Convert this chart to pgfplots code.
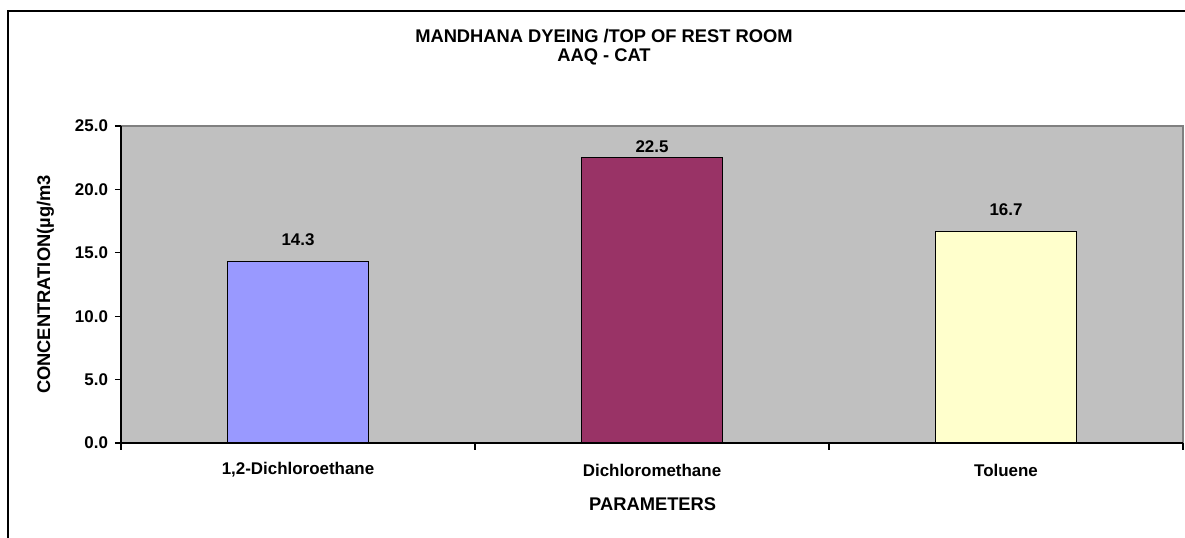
\documentclass[border=0pt]{standalone}
\usepackage{fontspec}
\setmainfont{Liberation Sans}
\usepackage{pgfplots}
\pgfplotsset{compat=1.18}
\definecolor{plotgray}{HTML}{C0C0C0}
\definecolor{barblue}{HTML}{9999FF}
\definecolor{barplum}{HTML}{993366}
\definecolor{baryellow}{HTML}{FFFFCC}
\definecolor{framegray}{HTML}{808080}

\begin{document}
\begin{tikzpicture}
\useasboundingbox (-60.5bp,-47.5bp) rectangle (532bp,221.5bp);
% outer chart frame (right and bottom edges lie outside the picture)
\draw[line width=0.6bp] (-56.5bp,-47.5bp) -- (-56.5bp,216bp) -- (532bp,216bp);
\begin{axis}[
  at={(0,0)}, anchor=south west,
  scale only axis, width=531bp, height=158.5bp,
  xmin=-0.5, xmax=2.5, ymin=0, ymax=25,
  ybar, bar width=70.5bp,
  clip=false,
  axis background/.style={fill=plotgray},
  axis line style={draw=none},
  xtick={0,1,2},
  xticklabels={{1,2-Dichloroethane},Dichloromethane,Toluene},
  xtick style={draw=none},
  ytick={0,5,...,25},
  ytick pos=left,
  ytick style={draw=black, line width=0.6bp},
  major tick length=3bp,
  tick align=outside,
  tick label style={font=\bfseries\fontsize{8.5}{10}\selectfont},
  xticklabel style={anchor=center, yshift=-10.5bp},
  yticklabel style={/pgf/number format/fixed, /pgf/number format/fixed zerofill,
                    /pgf/number format/precision=1},
  /pgf/number format/assume math mode=true,
  nodes near coords={\pgfmathprintnumber[fixed,fixed zerofill,precision=1]{\pgfplotspointmeta}},
  every node near coord/.append style={font=\bfseries\fontsize{8.5}{10}\selectfont,
                                       anchor=center, yshift=10.75bp},
]
\addplot[bar shift=0pt, fill=barblue, draw=black, line width=0.6bp] coordinates {(0,14.3)};
% label kept inside the plot area, as in the source chart
\addplot[bar shift=0pt, fill=barplum, draw=black, line width=0.6bp,
  every node near coord/.append style={yshift=-5.25bp}] coordinates {(1,22.5)};
\addplot[bar shift=0pt, fill=baryellow, draw=black, line width=0.6bp] coordinates {(2,16.7)};

% plot area border: grey top/right, black left/bottom
\draw[framegray, line width=1bp] (rel axis cs:0,1) -- (rel axis cs:1,1) -- (rel axis cs:1,0);
\draw[black, line width=0.8bp] (rel axis cs:0,1) -- (rel axis cs:0,0) -- (rel axis cs:1,0);
% category boundary ticks
\draw[line width=0.6bp] (axis cs:-0.5,0) -- ++(0pt,-3.5bp);
\draw[line width=0.6bp] (axis cs:0.5,0) -- ++(0pt,-3.5bp);
\draw[line width=0.6bp] (axis cs:1.5,0) -- ++(0pt,-3.5bp);
\draw[line width=0.6bp] (axis cs:2.5,0) -- ++(0pt,-3.5bp);
\end{axis}
% titles and axis labels
\node[font=\bfseries\fontsize{9.2}{9.5}\selectfont, align=center] at (241.5bp,197.75bp)
  {MANDHANA DYEING /TOP OF REST ROOM\\AAQ - CAT};
\node[font=\bfseries\fontsize{9.2}{11}\selectfont, rotate=90] at (-37.75bp,79.25bp)
  {CONCENTRATION(µg/m3};
\node[font=\bfseries\fontsize{9.2}{11}\selectfont] at (265.85bp,-30.5bp) {PARAMETERS};
\end{tikzpicture}
\end{document}
